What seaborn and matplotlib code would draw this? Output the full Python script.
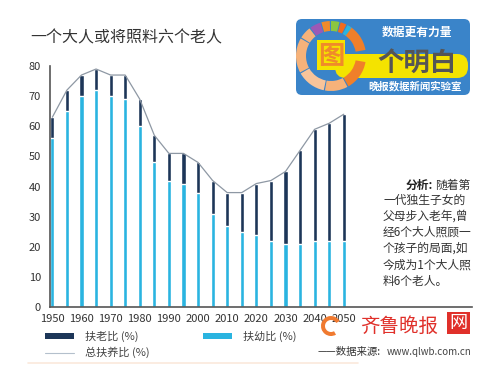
import matplotlib
matplotlib.use("Agg")
import matplotlib.pyplot as plt
from matplotlib.patches import FancyBboxPatch, Rectangle, Wedge, Patch
from matplotlib.lines import Line2D
import seaborn as sns
import pandas as pd

# 数据: 1950-2050 每5年
years = [1950, 1955, 1960, 1965, 1970, 1975, 1980, 1985, 1990, 1995, 2000,
         2005, 2010, 2015, 2020, 2025, 2030, 2035, 2040, 2045, 2050]
child_ratio = [56, 65, 70, 72, 70, 69, 60, 48, 42, 41, 38,
               31, 27, 25, 24, 22, 21, 21, 22, 22, 22]
total_ratio = [63, 72, 77, 79, 77, 77, 69, 57, 51, 51, 48,
               42, 38, 38, 41, 42, 45, 52, 59, 61, 64]
old_ratio = [t - c for t, c in zip(total_ratio, child_ratio)]
xticks = [1950, 1960, 1970, 1980, 1990, 2000, 2010, 2020, 2030, 2040, 2050]
yticks = [0, 10, 20, 30, 40, 50, 60, 70, 80]

df = pd.DataFrame({"year": years, "child": child_ratio, "old": old_ratio, "total": total_ratio})

navy = "#1d3658"
blue = "#2ab4e0"
grey_line = "#8e98a4"

sns.set_style("white")
plt.rcParams["font.family"] = ["Noto Sans CJK SC", "DejaVu Sans"]

fig = plt.figure(figsize=(5, 3.75), dpi=100)
ax = fig.add_axes([0.10, 0.181, 0.844, 0.643])

sns.barplot(data=df, x="year", y="total", native_scale=True, color=navy,
            width=0.29, saturation=1, ax=ax)
sns.barplot(data=df, x="year", y="child", native_scale=True, color=blue,
            width=0.29, saturation=1, ax=ax)
sns.lineplot(data=df, x="year", y="total", color=grey_line, lw=0.9, ax=ax)

ax.set_xlim(1949.2, 2094)
ax.set_ylim(0, 80)
ax.set_xticks(xticks)
ax.set_yticks(yticks)
ax.set_xlabel("")
ax.set_ylabel("")
ax.tick_params(axis="both", labelsize=8, colors="#333333", length=3, width=1)
ax.tick_params(axis="x", direction="inout", length=4, pad=3)
for s in ["top", "right"]:
    ax.spines[s].set_visible(False)
for s in ["left", "bottom"]:
    ax.spines[s].set_color("#555555")
    ax.spines[s].set_linewidth(1.2)

# 图例
handles = [Patch(facecolor=navy, edgecolor="none", label="扶老比 (%)"),
           Line2D([], [], color="#b4c0cc", lw=0.8, label="总扶养比 (%)"),
           Patch(facecolor=blue, edgecolor="none", label="扶幼比 (%)")]
fig.legend(handles=handles, ncol=2, loc="upper left", bbox_to_anchor=(0.07, 0.145),
           frameon=False, fontsize=8, handlelength=2.6, handleheight=0.45,
           handletextpad=1.0, columnspacing=4.8, labelspacing=0.45,
           labelcolor="#444444")

# 标题
fig.text(30 / 500, 1 - 38 / 375, "一个大人或将照料六个老人", fontsize=11.5,
         color="#333333", va="center", ha="left")

# 叠加层 (像素坐标)
ov = fig.add_axes([0, 0, 1, 1], facecolor="none")
ov.set_xlim(0, 500)
ov.set_ylim(375, 0)
ov.axis("off")

# 分析文字
ov.text(470, 185, "随着第", fontsize=8.5, color="#333333", ha="right", va="center")
ov.text(433, 185, "分析:", fontsize=8.5, color="#222222", ha="right", va="center",
        fontweight="bold")
lines = ["一代独生子女的", "父母步入老年,曾", "经6个大人照顾一",
         "个孩子的局面,如", "今成为1个大人照", "料6个老人。"]
for i, t in enumerate(lines):
    ov.text(383, 200 + i * 16.2, t, fontsize=8.5, color="#333333", ha="left", va="center")

# 右上角标志
ov.add_patch(FancyBboxPatch((296, 19), 174, 76, boxstyle="round,pad=0,rounding_size=6",
                            facecolor="#3a84c9", edgecolor="none"))
ov.add_patch(FancyBboxPatch((335, 54), 133, 24, boxstyle="round,pad=0,rounding_size=11",
                            facecolor="#f4e300", edgecolor="none"))
# 圆环: (起始角, 终止角, 颜色) 角度在翻转的y轴下顺时针
ring = [(-60, -10, "#f07f2a"), (10, 60, "#f07f2a"), (62, 100, "#f6b27a"),
        (102, 150, "#f8c49a"), (152, 210, "#f6b27a"), (212, 232, "#f6b27a"),
        (234, 252, "#9b59b6"), (254, 268, "#f08a2a"), (270, 284, "#8cc63f"),
        (286, 296, "#f26b1d"), (298, 306, "#2ab4e0")]
for a0, a1, c in ring:
    ov.add_patch(Wedge((331, 56), 35, a0, a1, width=10, facecolor=c, edgecolor="none"))
ov.add_patch(Rectangle((317, 40), 28, 30, facecolor="#f4e300", edgecolor="none"))
ov.text(331, 56, "图", fontsize=19, color="#f08a2a", ha="center", va="center",
        fontweight="bold")
ov.text(417, 32, "数据更有力量", fontsize=8.5, color="white", ha="center", va="center",
        fontweight="bold")
ov.text(417, 64, "个明白", fontsize=19, color="#555555", ha="center", va="center",
        fontweight="bold")
ov.text(415, 86, "晚报数据新闻实验室", fontsize=7.5, color="white", ha="center",
        va="center", fontweight="bold")

# 水印
ov.add_patch(Wedge((331, 326), 10, 60, 330, width=4, facecolor="#f07a30", edgecolor="none"))
ov.text(399, 326, "齐鲁晚报", fontsize=14, color="#e0302a", ha="center", va="center")
ov.add_patch(Rectangle((447, 312), 23, 22, facecolor="#e0302a", edgecolor="none"))
ov.text(458.5, 323, "网", fontsize=13, color="white", ha="center", va="center")
ov.text(318, 352, "——数据来源:", fontsize=7.5, color="#333333", ha="left", va="center")
ov.text(472, 352, "www.qlwb.com.cn", fontsize=7, color="#444444", ha="right", va="center")
ov.plot([28, 358], [363, 363], color="#fbe9dc", lw=1.2)

fig.savefig("out.png", dpi=100)
